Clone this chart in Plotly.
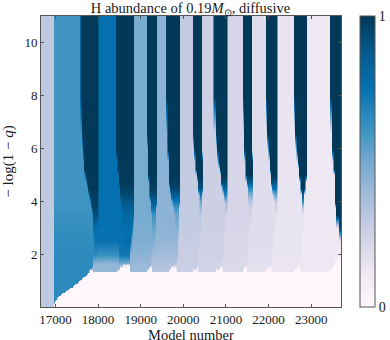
"""
H abundance of the 0.19 Msun diffusive model, as a Kippenhahn-style heatmap.
Each row below lists band edges (model number) and H abundance read off the picture.
"""

import numpy as np
import plotly.graph_objects as go

FONT = "Liberation Serif"
INK = "#1a1a1a"
FRAME = "#555555"

X_MIN, X_MAX = 16660, 23700
Y_MIN, Y_MAX = 0.03, 11.0

PUBU = ["#fff7fb", "#ece7f2", "#d0d1e6", "#a6bddb", "#74a9cf",
        "#3690c0", "#0570b0", "#045a8d", "#023858"]

x_tick_vals = [17000, 18000, 19000, 20000, 21000, 22000, 23000]
x_tick_text = ["17000", "18000", "19000", "20000", "21000", "22000", "23000"]
y_tick_vals = [2, 4, 6, 8, 10]
y_tick_text = ["2", "4", "6", "8", "10"]

# below the core boundary only the first two bands are filled
low_levels = [0.03, 0.1, 0.15, 0.2, 0.25, 0.3, 0.35, 0.4, 0.45, 0.5, 0.55, 0.6, 0.65, 0.7,
              0.75, 0.8, 0.85, 0.9, 0.95, 1.0, 1.05, 1.1, 1.15, 1.2, 1.25, 1.3, 1.34]
low_edge = [16940, 16950, 16960, 16970, 16985, 17000, 17025, 17050, 17080, 17115, 17160, 17210, 17260, 17305,
            17350, 17390, 17430, 17470, 17505, 17540, 17575, 17610, 17650, 17690, 17725, 17755, 17775]

band_levels = [1.38, 1.5, 1.6, 1.7, 2, 2.5, 3, 3.5, 3.75, 4, 4.25, 4.5, 4.75, 5, 5.25, 5.5, 6, 6.6, 8, 11]
y_levels = low_levels + band_levels

# band edges per level, bottom row first
band_edges = [[16660, 16940, e, 23700] for e in low_edge] + [
    [16660, 16940, 17795, 17890, 18450, 18735, 19145, 19260, 19645, 19835, 20230, 20350, 20745, 20910, 21380, 21470, 21915, 22060, 22575, 22740, 23395, 23700],
    [16660, 16940, 17845, 17890, 18520, 18735, 19190, 19245, 19720, 19830, 20300, 20350, 20840, 20905, 21430, 21470, 21990, 22060, 22645, 22735, 23490, 23700],
    [16660, 16940, 17865, 17900, 18570, 18735, 19215, 19225, 19765, 19775, 20340, 20350, 20900, 20910, 21470, 21480, 22060, 22070, 22730, 22740, 23530, 23700],
    [16660, 16940, 17880, 17915, 18475, 18735, 19200, 19250, 19775, 19835, 20325, 20350, 20890, 20910, 21470, 21485, 22045, 22070, 22715, 22740, 23560, 23700],
    [16660, 16940, 17915, 17960, 18475, 18735, 19225, 19270, 19785, 19845, 20335, 20350, 20910, 20925, 21485, 21495, 22070, 22080, 22750, 22760, 23605, 23700],
    [16660, 16940, 17915, 17960, 18570, 18770, 19250, 19305, 19810, 19855, 20350, 20360, 20925, 20935, 21510, 21520, 22095, 22105, 22760, 22770, 23650, 23700],
    [16660, 16940, 17890, 17960, 18570, 18805, 19250, 19340, 19810, 19880, 20360, 20395, 20935, 20960, 21530, 21545, 22115, 22130, 22775, 22785, 23640, 23700],
    [16660, 16940, 17865, 17985, 18570, 18825, 19250, 19355, 19785, 19890, 20370, 20410, 20960, 21005, 21545, 21590, 22140, 22175, 22775, 22810, 23580, 23700],
    [16660, 16940, 17840, 17985, 18550, 18825, 19240, 19360, 19760, 19900, 20370, 20415, 20960, 21020, 21535, 21600, 22135, 22185, 22770, 22815, 23570, 23700],
    [16660, 16940, 17820, 17985, 18535, 18825, 19225, 19365, 19740, 19905, 20370, 20420, 20960, 21030, 21520, 21615, 22130, 22200, 22760, 22820, 23560, 23700],
    [16660, 16940, 17785, 17985, 18515, 18840, 19210, 19380, 19710, 19915, 20360, 20430, 20935, 21030, 21520, 21615, 22105, 22200, 22755, 22830, 23550, 23700],
    [16660, 16940, 17750, 17985, 18500, 18850, 19200, 19390, 19680, 19925, 20350, 20445, 20910, 21030, 21520, 21615, 22080, 22200, 22750, 22845, 23545, 23700],
    [16660, 16940, 17725, 17985, 18490, 18850, 19190, 19390, 19660, 19925, 20325, 20445, 20885, 21030, 21485, 21615, 22055, 22200, 22730, 22860, 23540, 23700],
    [16660, 16940, 17705, 17985, 18475, 18850, 19180, 19390, 19645, 19925, 20300, 20445, 20865, 21030, 21450, 21615, 22035, 22200, 22715, 22880, 23535, 23700],
    [16660, 16940, 17680, 17985, 18460, 18850, 19170, 19390, 19640, 19920, 20290, 20445, 20840, 21030, 21445, 21615, 22020, 22200, 22700, 22880, 23520, 23700],
    [16660, 16940, 17655, 17985, 18450, 18850, 19165, 19390, 19635, 19915, 20280, 20445, 20815, 21030, 21440, 21615, 22010, 22200, 22690, 22880, 23510, 23700],
    [16660, 16940, 17630, 17985, 18430, 18845, 19155, 19390, 19620, 19910, 20255, 20440, 20780, 21030, 21420, 21610, 21985, 22200, 22655, 22880, 23500, 23700],
    [16660, 16940, 17610, 17985, 18415, 18840, 19145, 19390, 19610, 19905, 20230, 20430, 20745, 21030, 21405, 21600, 21965, 22200, 22620, 22880, 23490, 23700],
    [16660, 16940, 17585, 17985, 18405, 18825, 19130, 19390, 19600, 19905, 20210, 20420, 20700, 21030, 21380, 21590, 21940, 22200, 22600, 22880, 23440, 23700],
    [16660, 16940, 17585, 17985, 18405, 18825, 19130, 19390, 19600, 19905, 20210, 20420, 20700, 21030, 21380, 21590, 21940, 22200, 22600, 22880, 23440, 23700],
]

# H abundance inside those bands
top_values = [.3, .6, 1, .75, 1, .49, 1, .44, 1, .29, 1, .26, 1, .22, 1, .18, 1, .14, 1, .12, 1]
band_values = [[.3, .65, 0] for _ in low_levels] + [
    [.3, .65, 0, .42, 0, .4, 0, .33, 0, .26, 0, .24, 0, .2, 0, .16, 0, .13, 0, .12, 0],
    [.3, .65, .42, .42, 0, .4, 0, .33, 0, .27, 0, .24, 0, .2, 0, .16, 0, .13, 0, .12, 0],
    [.3, .65, .42, .42, .1, .4, .2, .34, .2, .27, .15, .24, .12, .2, .1, .16, .08, .13, .06, .12, 0],
    [.3, .65, .44, .44, .5, .41, .38, .35, .35, .27, .25, .24, .24, .2, .2, .17, .17, .13, .13, .12, 0],
    [.3, .65, .65, .62, .72, .44, .42, .38, .38, .27, .27, .25, .25, .21, .21, .17, .17, .14, .14, .12, .05],
    [.3, .64, .75, .74, .76, .47, .47, .42, .42, .28, .28, .25, .25, .21, .21, .18, .18, .14, .14, .12, .12],
    [.3, .63, .76, .75, .76, .48, .52, .44, .45, .29, .29, .26, .25, .22, .22, .18, .18, .14, .15, .12, .95],
    [.3, .62, .92, .75, .8, .49, .62, .44, .52, .29, .33, .26, .28, .22, .23, .18, .19, .14, .18, .12, 1],
    [.3, .61, .95, .75, .84, .49, .74, .44, .6, .29, .4, .26, .33, .22, .26, .18, .23, .14, .3, .12, 1],
    [.3, .61, .97, .75, .88, .49, .85, .44, .7, .29, .5, .26, .4, .22, .3, .18, .28, .14, .6, .12, 1],
    [.3, .6, .99, .75, .93, .49, .93, .44, .85, .29, .72, .26, .65, .22, .45, .18, .5, .14, .85, .12, 1],
    [.3, .6, 1, .75, .97, .49, .98, .44, .95, .29, .9, .26, .85, .22, .65, .18, .75, .14, 1, .12, 1],
    [.3, .6, 1, .75, .99, .49, .99, .44, .98, .29, .96, .26, .93, .22, .85, .18, .9, .14, 1, .12, 1],
    top_values, top_values, top_values, top_values, top_values, top_values, top_values,
]


def expand_rows(x_grid):
    """Turn the band rows into one z row per level on a fine model-number grid."""
    z = np.zeros((len(y_levels), len(x_grid)))
    for i, (edges, values) in enumerate(zip(band_edges, band_values)):
        idx = np.searchsorted(edges, x_grid, side="right") - 1
        z[i] = np.asarray(values)[np.clip(idx, 0, len(values) - 1)]
    return z


x_grid = np.arange(X_MIN, X_MAX + 1, 30)

fig = go.Figure(
    go.Heatmap(
        x=x_grid,
        y=y_levels,
        z=expand_rows(x_grid),
        zmin=0,
        zmax=1,
        zsmooth="best",
        colorscale=[[i / 8, c] for i, c in enumerate(PUBU)],
        colorbar=dict(
            x=1.063,
            xanchor="left",
            xpad=0,
            y=0,
            yanchor="bottom",
            ypad=0,
            len=1,
            thickness=15,
            outlinecolor=FRAME,
            outlinewidth=1,
            tickmode="array",
            tickvals=[0.001, 0.999],
            ticktext=["0", "1"],
            ticks="",
            tickfont=dict(family=FONT, size=14, color=INK),
        ),
    )
)

axis_style = dict(
    showgrid=False,
    zeroline=False,
    showline=True,
    linecolor=FRAME,
    linewidth=1,
    mirror="ticks",
    ticks="inside",
    ticklen=3,
    tickcolor=FRAME,
    tickmode="array",
    automargin=False,
    tickfont=dict(family=FONT, size=13, color=INK),
)

fig.update_xaxes(range=[X_MIN, X_MAX], tickvals=x_tick_vals, ticktext=x_tick_text, **axis_style)
fig.update_yaxes(
    range=[Y_MIN, Y_MAX],
    tickvals=y_tick_vals,
    ticktext=y_tick_text,
    title=dict(text="− log(1 − <i>q</i>)", font=dict(family=FONT, size=15, color=INK)),
    **axis_style,
)

# the x title sits too close to the tick labels as an axis title, so it is an annotation
fig.add_annotation(
    text="Model number",
    xref="paper",
    yref="paper",
    x=0.5,
    y=-0.095,
    xanchor="center",
    yanchor="middle",
    showarrow=False,
    font=dict(family=FONT, size=14.5, color=INK),
)

fig.update_layout(
    width=390,
    height=340,
    margin=dict(l=40.5, r=49, t=15.5, b=33, autoexpand=False),
    paper_bgcolor="white",
    plot_bgcolor="white",
    title=dict(
        text="H abundance of 0.19<i>M</i><sub>⊙</sub>, diffusive",
        x=190.5 / 390,
        xanchor="center",
        y=0.993,
        yanchor="top",
        font=dict(family=FONT, size=14.5, color=INK),
    ),
)

fig.write_html(
    "out.html",
    config={"displayModeBar": False},
    post_script="document.body.style.margin='0';",
)
